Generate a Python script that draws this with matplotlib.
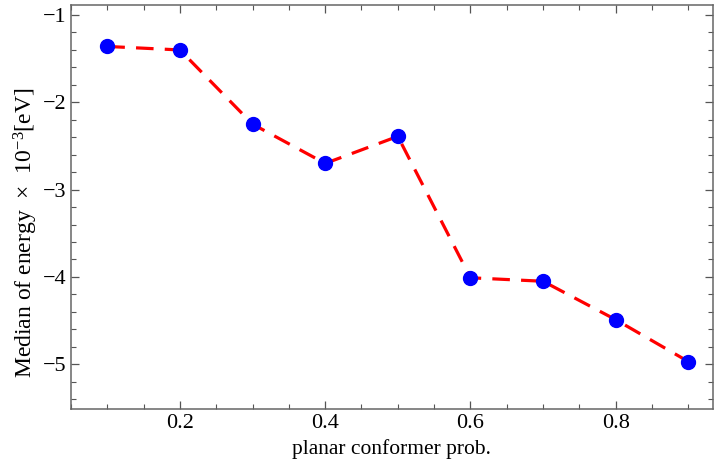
import matplotlib
matplotlib.use("Agg")
import matplotlib.pyplot as plt
from matplotlib.ticker import MultipleLocator

prob = [0.1, 0.2, 0.3, 0.4, 0.5, 0.6, 0.7, 0.8, 0.9]
median_energy = [-1.36, -1.40, -2.25, -2.70, -2.39, -4.01, -4.05, -4.49, -4.97]
xticks = [0.2, 0.4, 0.6, 0.8]
yticks = [-1, -2, -3, -4, -5]

plt.rcParams['font.family'] = ['Liberation Serif', 'DejaVu Serif']
plt.rcParams['mathtext.fontset'] = 'custom'
plt.rcParams['mathtext.rm'] = 'Liberation Serif'
plt.rcParams['mathtext.it'] = 'Liberation Serif:italic'
fig = plt.figure(figsize=(7.17, 4.62), dpi=100)
ax = fig.add_axes([70.7/717, 1-408.7/462, (713-70.7)/717, (408.7-5)/462])

ax.plot(prob, median_energy, color='#ff0000', lw=2.3, ls=(0, (5.5, 3.5)), zorder=2)
ax.plot(prob, median_energy, 'o', color='#0000ff', ms=10, zorder=3)

ax.set_xlim(0.0496, 0.934)
ax.set_ylim(-5.51, -0.885)
ax.set_xticks(xticks)
ax.set_yticks(yticks)
ax.xaxis.set_minor_locator(MultipleLocator(0.05))
ax.yaxis.set_minor_locator(MultipleLocator(0.2))
ax.tick_params(which='both', direction='in', top=True, right=True, colors='#555555',
               labelcolor='black', labelsize=16)
ax.tick_params(which='major', length=6, width=0.9)
ax.tick_params(which='minor', length=3.5, width=0.8)
ax.tick_params(axis='x', pad=4)
ax.tick_params(axis='y', pad=3)
for s in ax.spines.values():
    s.set_color('#666666')
    s.set_linewidth(1.1)

ax.set_xlabel('planar conformer prob.', fontsize=15.5, labelpad=4)
ax.set_ylabel('Median of energy  \u00d7  10$^{\u22123}$[eV]', fontsize=17, labelpad=5)
ax.yaxis.set_label_coords(-0.048, 0.435)

fig.savefig('out.png', dpi=100)
